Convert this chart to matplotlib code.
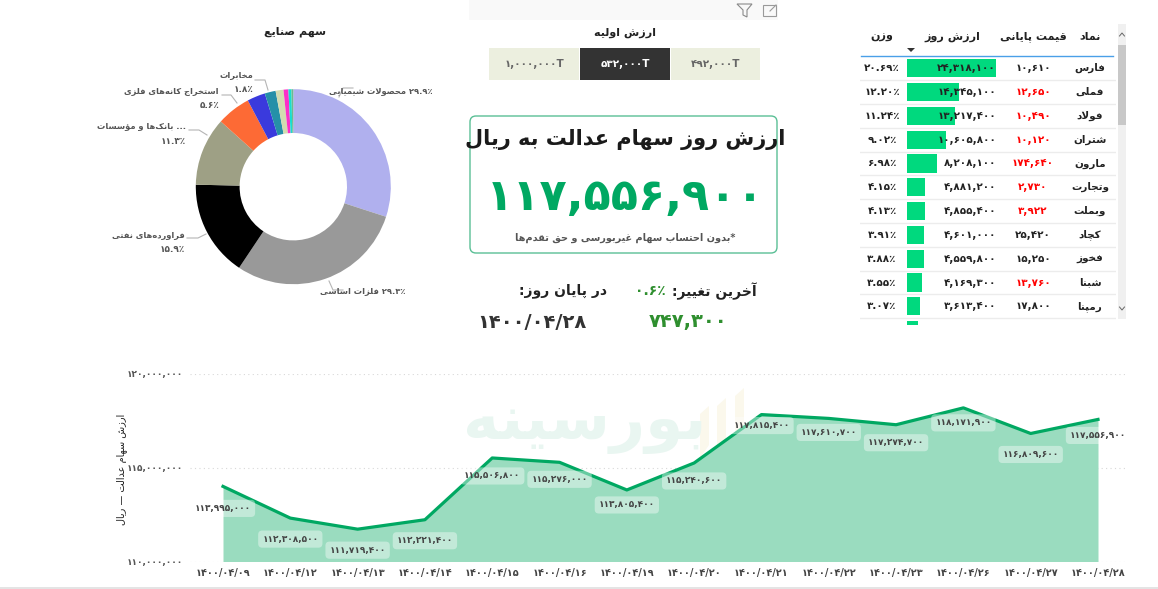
import re
import matplotlib
matplotlib.use("Agg")
import matplotlib.pyplot as plt
from matplotlib.patches import FancyBboxPatch, Rectangle, Polygon

W, H = 1158, 589

# ---- data ----
symbols = ["فارس", "فملی", "فولاد", "شتران", "مارون", "وتجارت", "وبملت", "کچاد", "فخوز", "شبنا", "رمپنا", ""]
prices = [10610, 12650, 10490, 10120, 174640, 2730, 3922, 25420, 15250, 13760, 17800, 10000]
price_red = [False, True, True, True, True, True, True, False, False, True, False, True]
day_values = [24318100, 14345100, 13217400, 10605800, 8208100, 4881200, 4855400, 4601000,
              4559800, 4169300, 3613400, 3000000]
weights = [20.69, 12.20, 11.24, 9.02, 6.98, 4.15, 4.13, 3.91, 3.88, 3.55, 3.07, 2.55]

sector_names = ["محصولات شیمیایی", "فلزات اساسی", "فراورده‌های نفتی", "... بانک‌ها و مؤسسات",
                "استخراج کانه‌های فلزی", "", "مخابرات", "", "", "", ""]
sector_shares = [29.9, 29.3, 15.9, 11.3, 5.6, 3.0, 1.8, 1.3, 0.8, 0.5, 0.3]
sector_colors = ["#b0b0ee", "#999999", "#000000", "#9ea085", "#fd6a35", "#3a3add", "#2590a8",
                 "#d2dcb0", "#fb2fc8", "#17dfd0", "#6fb98f"]

dates = ["1400/04/09", "1400/04/12", "1400/04/13", "1400/04/14", "1400/04/15", "1400/04/16",
         "1400/04/19", "1400/04/20", "1400/04/21", "1400/04/22", "1400/04/23", "1400/04/26",
         "1400/04/27", "1400/04/28"]
fund_value = [113995000, 112308500, 111719400, 112221400, 115506800, 115276000, 113805400,
              115240600, 117815400, 117610700, 117274700, 118171900, 116809600, 117556900]
label_drop = [22, 21, 21, 21, 18, 17, 15, 18, 11, 14, 18, 15, 21, 16]
y_ticks = [110000000, 115000000, 120000000]

slicer_labels = ["1,000,000T", "532,000T", "492,000T"]

# ---- persian text helpers, matplotlib does no shaping on its own ----
DIGITS = str.maketrans("0123456789", "۰۱۲۳۴۵۶۷۸۹")

FOUR = {"ب": 0xFE8F, "پ": 0xFB56, "ت": 0xFE95, "ث": 0xFE99, "ج": 0xFE9D, "چ": 0xFB7A, "ح": 0xFEA1,
        "خ": 0xFEA5, "س": 0xFEB1, "ش": 0xFEB5, "ص": 0xFEB9, "ض": 0xFEBD, "ط": 0xFEC1, "ظ": 0xFEC5,
        "ع": 0xFEC9, "غ": 0xFECD, "ف": 0xFED1, "ق": 0xFED5, "ک": 0xFB8E, "گ": 0xFB92, "ل": 0xFEDD,
        "م": 0xFEE1, "ن": 0xFEE5, "ه": 0xFEE9, "ی": 0xFBFC, "ئ": 0xFE89}
TWO = {"ا": 0xFE8D, "آ": 0xFE81, "د": 0xFEA9, "ذ": 0xFEAB, "ر": 0xFEAD, "ز": 0xFEAF, "ژ": 0xFB8A,
       "و": 0xFEED, "ؤ": 0xFE85}


def shape(text):
    text = text.replace("لا", "\uE000").replace("لآ", "\uE000")
    out = []
    for i, c in enumerate(text):
        prev = text[i - 1] if i > 0 else ""
        nxt = text[i + 1] if i + 1 < len(text) else ""
        joins_prev = prev in FOUR
        joins_next = nxt in FOUR or nxt in TWO or nxt == "\uE000"
        if c == "\uE000":
            out.append("\uFEFC" if joins_prev else "\uFEFB")
        elif c in FOUR:
            if joins_prev and joins_next:
                out.append(chr(FOUR[c] + 3))
            elif joins_prev:
                out.append(chr(FOUR[c] + 1))
            elif joins_next:
                out.append(chr(FOUR[c] + 2))
            else:
                out.append(chr(FOUR[c]))
        elif c in TWO:
            out.append(chr(TWO[c] + (1 if joins_prev else 0)))
        elif c != "\u200c":
            out.append(c)
    return "".join(out)


def rtl(text):
    parts = re.split(r"([۰-۹][۰-۹.,/٪]*)", shape(text))
    return "".join(p if i % 2 else p[::-1] for i, p in reversed(list(enumerate(parts))))


def fa(text):
    return str(text).translate(DIGITS)


def px_axes(left, top, right, bottom, **kw):
    return fig.add_axes([left / W, 1 - bottom / H, (right - left) / W, (bottom - top) / H], **kw)


plt.rcParams["font.family"] = ["DejaVu Sans"]
plt.rcParams["font.weight"] = "bold"

fig = plt.figure(figsize=(W / 100, H / 100), dpi=100, facecolor="white")

# overlay in pixel coordinates for the dashboard furniture
bg = px_axes(0, 0, W, H)
bg.set_xlim(0, W)
bg.set_ylim(H, 0)
bg.axis("off")

bg.add_patch(Rectangle((469, 0), 309, 20, fc="#f9f9f9", ec="none"))
bg.add_patch(Rectangle((0, 587), W, 2, fc="#e4e4e4", ec="none"))
bg.add_patch(Polygon([(737, 4), (752, 4), (747, 10), (747, 17), (743, 15), (743, 10)], fill=False, ec="#8a8a8a", lw=0.8))
bg.add_patch(Rectangle((763, 5), 13, 11, fill=False, ec="#9a9a9a", lw=0.8))
bg.plot([770, 776], [11, 5], color="#9a9a9a", lw=0.8)

# slicer
bg.text(625, 33, rtl("ارزش اولیه"), ha="center", va="center", fontsize=8, color="#222222")
for (x0, x1), lab, dark in zip([(489, 579), (580, 670), (671, 760)], slicer_labels, [False, True, False]):
    bg.add_patch(Rectangle((x0, 48), x1 - x0, 32, fc="#333333" if dark else "#ecefdf", ec="none"))
    bg.text((x0 + x1) / 2, 64, fa(lab), ha="center", va="center", fontsize=7.5,
            color="white" if dark else "#666666")

# card
bg.add_patch(FancyBboxPatch((470, 116), 307, 137, boxstyle="round,pad=0,rounding_size=6",
                            fc="white", ec="#5abf95", lw=1))
bg.text(625, 140, rtl("ارزش روز سهام عدالت به ریال"), ha="center", va="center", fontsize=15, color="#1a1a1a")
bg.text(625, 197, fa("117,556,900"), ha="center", va="center", fontsize=32, color="#00a862")
bg.text(625, 238, rtl("*بدون احتساب سهام غیربورسی و حق تقدم‌ها"), ha="center", va="center", fontsize=7, color="#555555")

bg.text(757, 291, rtl("آخرین تغییر:"), ha="right", va="center", fontsize=10, color="#222222")
bg.text(650, 291, fa("0.6٪"), ha="center", va="center", fontsize=10, color="#2f8f2f")
bg.text(607, 291, rtl("در پایان روز:"), ha="right", va="center", fontsize=10, color="#222222")
bg.text(688, 322, fa("747,300"), ha="center", va="center", fontsize=14, color="#2f8f2f")
bg.text(532, 322, fa("1400/04/28"), ha="center", va="center", fontsize=14, color="#333333")

# table header and scrollbar
for x, name in [(1090, "نماد"), (1033, "قیمت پایانی"), (952, "ارزش روز"), (882, "وزن")]:
    bg.text(x, 37, rtl(name), ha="center", va="center", fontsize=8, color="#222222")
bg.add_patch(Polygon([(907, 48), (915, 48), (911, 52)], fc="#333333", ec="none"))
bg.plot([861, 1113], [56, 56], color="#4a9fe8", lw=1)
bg.add_patch(Rectangle((1118, 24), 8, 295, fc="#f0f0f0", ec="none"))
bg.add_patch(Rectangle((1118, 45), 8, 80, fc="#c8c8c8", ec="none"))
bg.plot([1119.5, 1122, 1124.5], [36, 33, 36], color="#666666", lw=0.7)
bg.plot([1119.5, 1122, 1124.5], [307, 310, 307], color="#666666", lw=0.7)

# table body, x scale has 88.7 px for the largest value
row0, row_step = 68.3, 23.8
per_px = max(day_values) / 88.7
tbl = px_axes(860, 57, 1116, 325)
tbl.set_xlim(-47 * per_px, 209 * per_px)
tbl.set_ylim((325 - row0) / row_step, (57 - row0) / row_step)
tbl.axis("off")
tbl.barh(range(len(day_values)), day_values, height=0.76, color="#00d97e")
for i in range(len(symbols)):
    y = i
    tbl.axhline(i + 0.5, color="#ececec", lw=1)
    to_x = lambda px: (px - 907) * per_px
    tbl.text(to_x(1090), y, rtl(symbols[i]), ha="center", va="center", fontsize=7.5, color="#222222", clip_on=True)
    tbl.text(to_x(1033), y, fa(f"{prices[i]:,}"), ha="center", va="center", fontsize=7.5,
             color="#ff0000" if price_red[i] else "#222222", clip_on=True)
    tbl.text(to_x(996), y, fa(f"{day_values[i]:,}"), ha="right", va="center", fontsize=7.5, color="#222222", clip_on=True)
    tbl.text(to_x(882), y, fa(f"{weights[i]:.2f}٪"), ha="center", va="center", fontsize=7.5, color="#222222", clip_on=True)

# donut
pie = px_axes(293.3 - 97.5, 186.7 - 97.5, 293.3 + 97.5, 186.7 + 97.5)
pie.pie(sector_shares, colors=sector_colors, startangle=90, counterclock=False, radius=1,
        wedgeprops=dict(width=1 - 53.7 / 97.5), normalize=True)
pie.set_xlim(-1, 1)
pie.set_ylim(-1, 1)

bg.text(295, 32, rtl("سهم صنایع"), ha="center", va="center", fontsize=8, color="#222222")
leaders = [[(339, 97), (343, 88), (353, 88)], [(329, 281), (333, 290), (343, 290)],
           [(206, 234), (198, 238), (187, 238)], [(207, 135), (199, 130), (189, 130)],
           [(237, 103), (231, 95), (222, 95)], [(268, 90), (265, 80), (255, 80)]]
for pts in leaders:
    bg.plot(*zip(*pts), color="#b5b5b5", lw=0.8)
bg.text(433, 91, rtl("۲۹.۹٪ محصولات شیمیایی"), ha="right", va="center", fontsize=6, color="#555555")
bg.text(406, 292, rtl("۲۹.۳٪ فلزات اساسی"), ha="right", va="center", fontsize=6, color="#555555")
for x, y, i, val in [(185, 235, 2, "۱۵.۹٪"), (186, 126, 3, "۱۱.۳٪"), (219, 91, 4, "۵.۶٪"), (253, 75, 6, "۱.۸٪")]:
    bg.text(x, y, rtl(sector_names[i]), ha="right", va="center", fontsize=6, color="#555555")
    bg.text(x, y + 15, val, ha="right", va="center", fontsize=6.5, color="#555555")

# watermark sits behind the line chart
bg.text(585, 425, rtl("بورسینه"), ha="center", va="center", fontsize=44, color="#e9f6f1")
for x0, top in [(700, 406), (717, 398), (735, 388)]:
    bg.add_patch(Polygon([(x0, top + 8), (x0 + 9, top), (x0 + 9, 445), (x0, 458)], fc="#fbf8ec", ec="none"))

# line chart
step = (1098 - 223) / 13
ax = px_axes(190, 373.5, 1125, 561.5)
ax.patch.set_alpha(0)
ax.set_xlim(-33 / step, 13 + 27 / step)
ax.set_ylim(110000000, 120000000)
xs = list(range(len(dates)))
ax.fill_between(xs, fund_value, 110000000, color="#9adcbf", lw=0, zorder=2)
ax.plot(xs, fund_value, color="#00a862", lw=2.3, zorder=3)
ax.set_yticks(y_ticks)
ax.set_yticklabels([fa(f"{v:,}") for v in y_ticks], fontsize=6.5, color="#555555")
ax.set_xticks(xs)
ax.set_xticklabels([fa(d) for d in dates], fontsize=7, color="#444444")
ax.tick_params(length=0, pad=5)
ax.grid(axis="y", color="#d8d8d8", ls=(0, (1, 3)), lw=0.8)
ax.set_axisbelow(True)
for s in ax.spines.values():
    s.set_visible(False)
ax.set_ylabel(rtl("ارزش سهام عدالت — ریال"), fontsize=7, color="#222222", labelpad=17)
ax.yaxis.set_label_coords((127 - 190) / 935, 0.49)

for x, v, drop in zip(xs, fund_value, label_drop):
    ax.annotate(fa(f"{v:,}"), (x, v), xytext=(0, -drop * 0.72), textcoords="offset points",
                ha="center", va="center", fontsize=6.5, color="#444444", zorder=5,
                bbox=dict(boxstyle="round,pad=0.45", fc="white", ec="none", alpha=0.4))

fig.savefig("out.png", dpi=100)
